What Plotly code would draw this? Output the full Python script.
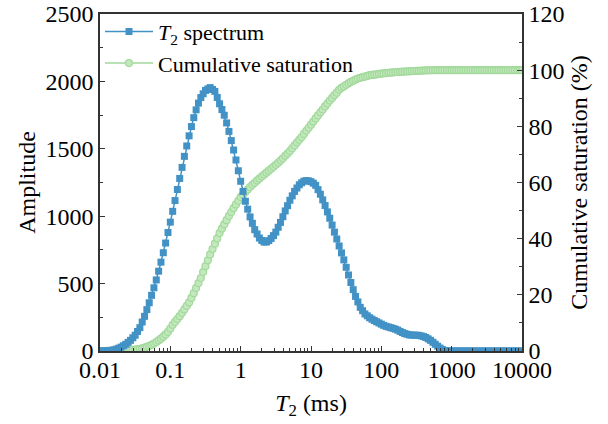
import numpy as np
import plotly.graph_objects as go

# T2 relaxation grid (ms), 30 points per decade from 0.01 to 10000
t2_ms = np.logspace(-2, 4, 181)

amplitude = [
    0, 0.5, 1, 2, 3, 5, 9, 14, 21, 29, 39,
    50, 64, 79, 98, 117, 145, 173, 215, 257, 307,
    358, 413, 469, 527, 592, 659, 729, 801, 879, 956,
    1036, 1116, 1198, 1280, 1362, 1444, 1521, 1596, 1665, 1731,
    1789, 1839, 1880, 1908, 1933, 1944, 1954, 1940, 1926, 1881,
    1834, 1791, 1749, 1692, 1629, 1561, 1491, 1417, 1337, 1259,
    1184, 1111, 1052, 995, 947, 900, 868, 838, 820, 808,
    809, 819, 835, 856, 882, 918, 954, 996, 1039, 1078,
    1118, 1151, 1184, 1209, 1233, 1248, 1260, 1264, 1262, 1256,
    1245, 1229, 1197, 1163, 1121, 1079, 1032, 985, 934, 882,
    831, 779, 728, 676, 621, 564, 508, 455, 405, 364,
    324, 299, 275, 261, 247, 236, 226, 217, 208, 199,
    190, 183, 178, 173, 168, 162, 155, 145, 137, 129,
    124, 119, 118, 118, 117, 116, 112, 107, 100, 90,
    79, 65, 50, 36, 22, 12, 4, 1, 0, 0,
    0, 0, 0, 0, 0, 0, 0, 0, 0, 0,
    0, 0, 0, 0, 0, 0, 0, 0, 0, 0,
    0, 0, 0, 0, 0, 0, 0, 0, 0, 0,
]

saturation = [
    0, 0, 0, 0.01, 0.01, 0.02, 0.03, 0.05, 0.07, 0.10, 0.14,
    0.19, 0.25, 0.31, 0.40, 0.50, 0.63, 0.78, 0.97, 1.2, 1.5,
    1.8, 2.2, 2.65, 3.2, 3.75, 4.4, 5.1, 5.9, 6.8, 8.0,
    9.35, 10.35, 11.4, 12.4, 13.6, 14.8, 16.1, 17.3, 18.9, 20.6,
    22.4, 24.2, 26.0, 28.1, 30.2, 32.3, 34.4, 36.3, 38.2, 40.1,
    42.0, 43.6, 45.1, 46.6, 48.1, 49.5, 50.9, 52.2, 53.5, 54.8,
    55.7, 56.6, 57.5, 58.4, 59.2, 59.9, 60.7, 61.4, 62.1, 62.8,
    63.5, 64.2, 64.9, 65.6, 66.3, 67.0, 67.8, 68.6, 69.5, 70.3,
    71.2, 72.2, 73.2, 74.2, 75.2, 76.2, 77.3, 78.4, 79.5, 80.6,
    81.7, 82.8, 83.9, 85.0, 86.0, 87.1, 88.1, 89.2, 90.1, 91.1,
    92.0, 93.0, 93.7, 94.2, 94.8, 95.3, 95.8, 96.2, 96.6, 97.0,
    97.3, 97.5, 97.7, 97.95, 98.2, 98.3, 98.4, 98.5, 98.65, 98.75,
    98.85, 98.95, 99.05, 99.1, 99.2, 99.25, 99.35, 99.4, 99.45, 99.5,
    99.55, 99.6, 99.65, 99.7, 99.75, 99.78, 99.82, 99.86, 99.9, 99.93,
    99.95, 99.97, 99.98, 99.99, 100, 100, 100, 100, 100, 100,
    100, 100, 100, 100, 100, 100, 100, 100, 100, 100,
    100, 100, 100, 100, 100, 100, 100, 100, 100, 100,
    100, 100, 100, 100, 100, 100, 100, 100, 100, 100,
]

x_tickvals = [0.01, 0.1, 1, 10, 100, 1000, 10000]
x_ticktext = ["0.01", "0.1", "1", "10", "100", "1000", "10000"]

BLUE = "#4292c6"
GREEN = "#a1d99b"
AXIS = "#333333"
FONT = "Liberation Serif"

minor_x = [m * 10.0 ** e for e in range(-2, 4) for m in range(2, 10)]

fig = go.Figure()

fig.add_trace(go.Scatter(
    x=t2_ms, y=amplitude, name="<i>T</i><sub>2</sub> spectrum",
    mode="lines+markers", yaxis="y2",
    line=dict(color=BLUE, width=1.5),
    marker=dict(symbol="square", size=7, color=BLUE, line=dict(width=0)),
))
fig.add_trace(go.Scatter(
    x=t2_ms, y=saturation, name="Cumulative saturation",
    mode="lines+markers", yaxis="y",
    line=dict(color=GREEN, width=1.5),
    marker=dict(symbol="circle", size=7, color="#c4e8bd",
                line=dict(color=GREEN, width=1.2)),
))

tickfont = dict(family=FONT, size=24, color="black")
titlefont = dict(family=FONT, size=24, color="black")

fig.update_layout(
    width=608, height=424,
    margin=dict(l=100, r=86, t=14, b=73, autoexpand=False),
    paper_bgcolor="white", plot_bgcolor="white",
    font=dict(family=FONT, size=22, color="black"),
    showlegend=True,
    legend=dict(x=0.0, y=1.01, xanchor="left", yanchor="top",
                bgcolor="rgba(0,0,0,0)", font=dict(family=FONT, size=22),
                tracegroupgap=0, itemwidth=48),
    xaxis=dict(
        type="log", range=[-2, 4], automargin=False,
        tickvals=x_tickvals, ticktext=x_ticktext, ticklabelstandoff=-4,
        ticks="inside", ticklen=5, tickwidth=1.2, tickcolor=AXIS,
        minor=dict(tickvals=minor_x, ticks="inside", ticklen=3,
                   tickwidth=1, tickcolor=AXIS, showgrid=False),
        showline=True, linecolor=AXIS, linewidth=1.5, mirror=True,
        showgrid=False, zeroline=False, tickfont=tickfont,
        title=dict(text="<i>T</i><sub>2</sub> (ms)", font=titlefont, standoff=13),
    ),
    yaxis=dict(
        side="right", range=[0, 120], dtick=20, automargin=False,
        ticks="inside", ticklen=5, tickwidth=1.2, tickcolor=AXIS,
        minor=dict(dtick=10, ticks="inside", ticklen=3, tickwidth=1,
                   tickcolor=AXIS, showgrid=False),
        showline=True, linecolor=AXIS, linewidth=1.5,
        showgrid=False, zeroline=False, tickfont=tickfont,
        title=dict(text="Cumulative saturation (%)", font=titlefont, standoff=7),
    ),
    yaxis2=dict(
        side="left", overlaying="y", range=[0, 2500], dtick=500, automargin=False,
        ticks="inside", ticklen=5, tickwidth=1.2, tickcolor=AXIS,
        minor=dict(dtick=250, ticks="inside", ticklen=3, tickwidth=1,
                   tickcolor=AXIS, showgrid=False),
        showline=True, linecolor=AXIS, linewidth=1.5,
        showgrid=False, zeroline=False, tickfont=tickfont,
        title=dict(text="Amplitude", font=titlefont, standoff=3),
    ),
)

fig.write_html("out.html", config={"displayModeBar": False},
               post_script="document.body.style.margin='0';")
